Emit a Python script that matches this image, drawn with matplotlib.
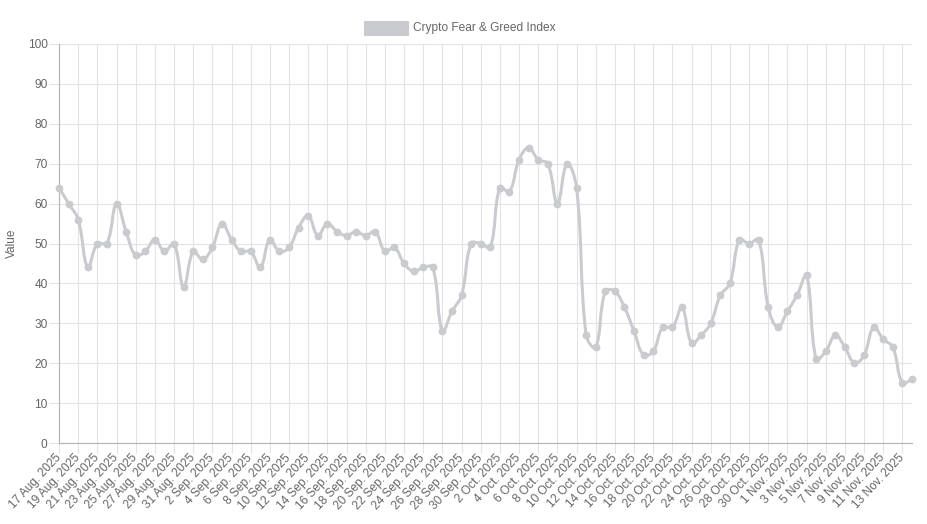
import matplotlib
matplotlib.use("Agg")
import matplotlib.pyplot as plt
from matplotlib.path import Path
from matplotlib.patches import PathPatch, Rectangle
import numpy as np
import pandas as pd

plt.rcParams['font.family'] = ['Liberation Sans', 'DejaVu Sans']

# ---- data ----
start_date = "2025-08-17"
series_name = "Crypto Fear & Greed Index"
values = [64, 60, 56, 44, 50, 50, 60, 53, 47, 48,
          51, 48, 50, 39, 48, 46, 49, 55, 51, 48,
          48, 44, 51, 48, 49, 54, 57, 52, 55, 53,
          52, 53, 52, 53, 48, 49, 45, 43, 44, 44,
          28, 33, 37, 50, 50, 49, 64, 63, 71, 74,
          71, 70, 60, 70, 64, 27, 24, 38, 38, 34,
          28, 22, 23, 29, 29, 34, 25, 27, 30, 37,
          40, 51, 50, 51, 34, 29, 33, 37, 42, 21,
          23, 27, 24, 20, 22, 29, 26, 24, 15, 16]
y_ticks = list(range(0, 101, 10))
y_label = "Value"

dates = pd.date_range(start_date, periods=len(values), freq="D")
labels = [f"{d.day} {d.strftime('%b')}. {d.year}" for d in dates]

# ---- figure ----
W, H = 928, 524
fig = plt.figure(figsize=(W / 100, H / 100), dpi=100)
L, R, T, B = 59, 912, 44, 443
ax = fig.add_axes([L / W, 1 - B / H, (R - L) / W, (B - T) / H])

LINE_C = "#c9cbcf"
GRID_C = "#e3e3e3"
AXIS_C = "#b3b3b3"
TEXT_C = "#666666"

n = len(values)
x = np.arange(n, dtype=float)
y = np.array(values, dtype=float)
ax.set_xlim(0, n - 1)
ax.set_ylim(0, 100)

# Chart.js style spline (tension 0.4) computed in pixel space
sx = (R - L) / (n - 1)
sy = (B - T) / 100.0
px, py = x * sx, y * sy
t = 0.4
verts = [(x[0], y[0])]
codes = [Path.MOVETO]
cp_prev, cp_next = [], []
for i in range(n):
    pi = max(i - 1, 0)
    ni = min(i + 1, n - 1)
    d01 = np.hypot(px[i] - px[pi], py[i] - py[pi])
    d12 = np.hypot(px[ni] - px[i], py[ni] - py[i])
    s = d01 + d12
    s01 = d01 / s if s else 0
    s12 = d12 / s if s else 0
    fa, fb = t * s01, t * s12
    dx, dy = px[ni] - px[pi], py[ni] - py[pi]
    cp_prev.append(((px[i] - fa * dx) / sx, min(max((py[i] - fa * dy) / sy, 0), 100)))
    cp_next.append(((px[i] + fb * dx) / sx, min(max((py[i] + fb * dy) / sy, 0), 100)))
for i in range(1, n):
    verts += [cp_next[i - 1], cp_prev[i], (x[i], y[i])]
    codes += [Path.CURVE4] * 3
ax.add_patch(PathPatch(Path(verts, codes), facecolor="none", edgecolor=LINE_C,
                       lw=2.2, capstyle="round", joinstyle="round", zorder=3))
ax.plot(x, y, linestyle="none", marker="o", ms=4.6, color=LINE_C, zorder=4, clip_on=False)

# ---- axes styling ----
ax.set_xticks(x[::2])
ax.set_xticklabels(labels[::2], rotation=47, ha="right", va="center",
                   rotation_mode="anchor", fontsize=8.6, color=TEXT_C)
ax.set_yticks(y_ticks)
ax.set_yticklabels([str(v) for v in y_ticks], fontsize=8.6, color=TEXT_C)
ax.tick_params(axis="both", length=7.2, width=0.8, color=GRID_C, pad=1)
ax.tick_params(axis="x", pad=2)
ax.grid(True, color=GRID_C, lw=0.8)
ax.set_axisbelow(True)
for sp in ["top", "right"]:
    ax.spines[sp].set_visible(False)
for sp in ["left", "bottom"]:
    ax.spines[sp].set_color(AXIS_C)
    ax.spines[sp].set_linewidth(0.8)

fig.text(12 / W, 1 - 243 / H, y_label, rotation=90, ha="center", va="center",
         fontsize=8.6, color=TEXT_C)

# ---- legend ----
fig.add_artist(Rectangle((364 / W, 1 - 35 / H), 44 / W, 14 / H, transform=fig.transFigure,
                         facecolor=LINE_C, edgecolor=LINE_C, lw=0.8))
fig.text(413 / W, 1 - 28 / H, series_name, ha="left", va="center",
         fontsize=8.6, color=TEXT_C)

fig.savefig("out.png", dpi=100)
